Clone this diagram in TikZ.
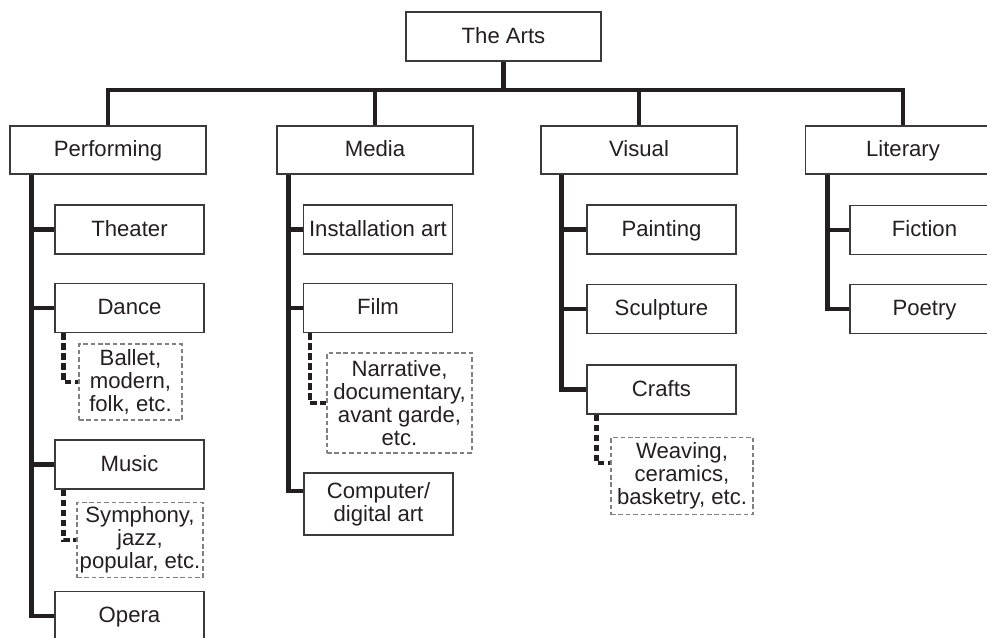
\documentclass[tikz,border=0pt]{standalone}
\usepackage{fontspec}
\setmainfont{Liberation Sans}
\usepackage{tikz}
\usetikzlibrary{calc}

\definecolor{ink}{HTML}{231F20}
\definecolor{rim}{HTML}{3A3A3A}

\tikzset{
  box/.style={draw=rim, line width=0.6pt, text=ink, align=center, inner sep=0pt,
    font=\fontsize{12.6}{13.1}\selectfont},
  oneline/.style={text height=0.9em, text depth=0.14em},
  rootbox/.style={box, oneline, minimum width=3.9cm, minimum height=0.98cm},
  areabox/.style={box, oneline, minimum width=3.92cm, minimum height=0.96cm},
  formbox/.style={box, oneline, minimum width=2.98cm, minimum height=0.98cm},
  kindbox/.style={box, draw=gray, dash pattern=on 2.6pt off 1.6pt},
  trunk/.style={draw=ink, line width=2.3pt},
  sublink/.style={draw=ink, line width=2.3pt, dash pattern=on 3.8pt off 1.9pt}
}

\begin{document}
\begin{tikzpicture}[x=0.02cm, y=-0.02cm]
\clip (0,0) rectangle (987,637);

% raiz e areas
\node[rootbox] (arts) at (503.5,36.5) {The Arts};
\node[areabox] (perf) at (108,150) {Performing};
\node[areabox] (media) at (375,150) {Media};
\node[areabox] (visual) at (639,150) {Visual};
\node[areabox] (lit) at (903,150) {Literary};

\coordinate (bus) at (503.5,90);
\draw[trunk] (arts.south) -- (bus);
\draw[trunk] (perf.north) |- (bus) -| (lit.north);
\draw[trunk] (media.north) -- (media.north |- bus);
\draw[trunk] (visual.north) -- (visual.north |- bus);

% Performing
\node[formbox] (theater) at (129.5,229.5) {Theater};
\node[formbox] (dance) at (129.5,308) {Dance};
\node[kindbox, minimum width=2.06cm, minimum height=1.52cm] (ballet) at (130.5,382) {Ballet,\\modern,\\folk, etc.};
\node[formbox] (music) at (129.5,464.5) {Music};
\node[kindbox, minimum width=2.52cm, minimum height=1.5cm] (symph) at (140,540) {Symphony,\\jazz,\\popular, etc.};
\node[formbox] (opera) at (129.5,616) {Opera};

\draw[trunk] (perf.south west) ++(22,0) |- (opera.west);
\draw[trunk] (theater.west) -- ++(-23,0);
\draw[trunk] (dance.west) -- ++(-23,0);
\draw[trunk] (music.west) -- ++(-23,0);
\draw[sublink] (dance.south west) ++(9,0) |- (ballet.west);
\draw[sublink] (music.south west) ++(9,0) |- (symph.west);

% Media
\node[formbox] (install) at (378,229.5) {Installation art};
\node[formbox] (film) at (378,308) {Film};
\node[kindbox, minimum width=2.9cm, minimum height=2cm] (narr) at (399.5,403) {Narrative,\\documentary,\\avant garde,\\etc.};
\node[box, minimum width=2.98cm, minimum height=1.24cm] (comp) at (378.5,504) {Computer/\\digital art};

\draw[trunk] (media.south west) ++(12,0) |- (comp.170);
\draw[trunk] (install.west) -- ++(-15,0);
\draw[trunk] (film.west) -- ++(-15,0);
\draw[sublink] (film.south west) ++(7,0) |- (narr.west);

% Visual
\node[formbox] (paint) at (661.5,229.5) {Painting};
\node[formbox] (sculpt) at (661.5,309) {Sculpture};
\node[formbox] (crafts) at (661.5,389.5) {Crafts};
\node[kindbox, minimum width=2.84cm, minimum height=1.54cm] (weave) at (682,476) {Weaving,\\ceramics,\\basketry, etc.};

\draw[trunk] (visual.south west) ++(21,0) |- (crafts.west);
\draw[trunk] (paint.west) -- ++(-25,0);
\draw[trunk] (sculpt.west) -- ++(-25,0);
\draw[sublink] (crafts.south west) ++(10,0) |- (weave.170);

% Literary
\node[formbox] (fiction) at (924.5,230) {Fiction};
\node[formbox] (poetry) at (924.5,309) {Poetry};

\draw[trunk] (lit.south west) ++(23,0) |- (poetry.west);
\draw[trunk] (fiction.west) -- ++(-23,0);

\end{tikzpicture}
\end{document}
